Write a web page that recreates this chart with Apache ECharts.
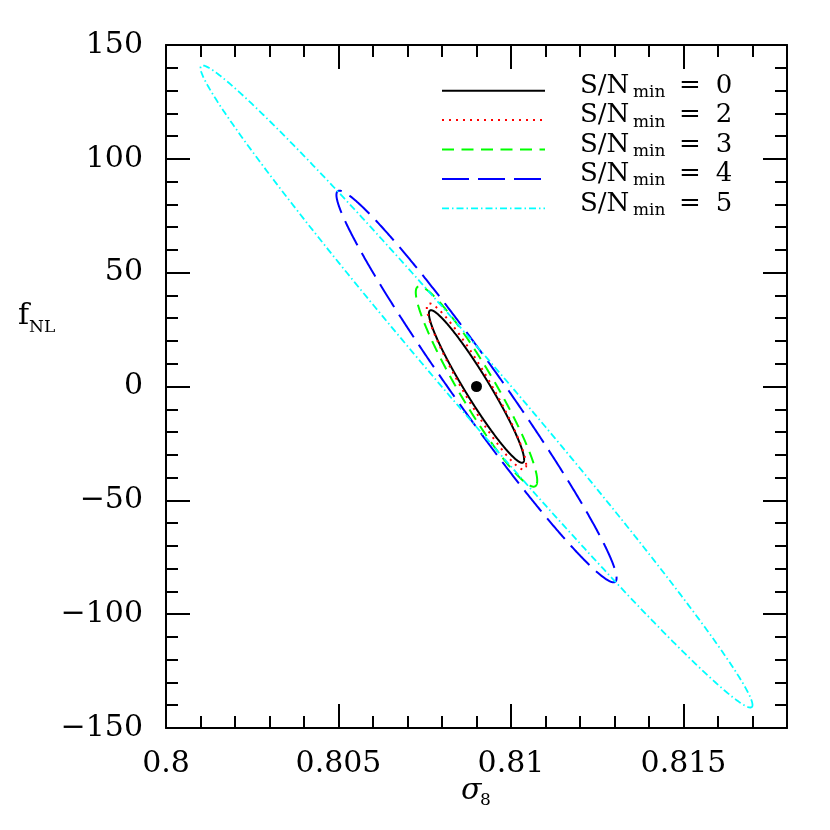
<!DOCTYPE html>
<html><head><meta charset="utf-8">
<script src="https://cdn.jsdelivr.net/npm/echarts@6/dist/echarts.min.js"></script>
<style>html,body{margin:0;padding:0;background:#fff}#c{width:830px;height:830px}</style>
</head><body><div id="c"></div>
<script>
// ---- data ----
const snMin = ['0', '2', '3', '4', '5'];
const centerSigma8 = [0.809, 0.809, 0.809, 0.809, 0.809];
const centerFnl = [0, 0, 0, 0, 0];
const sigma8Extent = [0.00138, 0.00144, 0.00176, 0.00406, 0.00800];   // half extent in sigma_8
const fnlExtent = [33.5, 36.5, 44, 86, 141];                          // half extent in f_NL
const correlation = [-0.955, -0.948, -0.94, -0.978, -0.992];
const fiducial = [[0.809, 0]];
const xRange = [0.8, 0.818];
const yRange = [-150, 150];

// ---- styles ----
const colors = ['#000000', '#ff0000', '#00ff00', '#0000ff', '#00ffff'];
const dashes = [null, [2, 5], [12, 7.5], [27, 9], [7, 3, 1.5, 3]];
const widths = [2, 2, 2, 2, 1.8];
const FONT = 'DejaVu Serif';

const chart = echarts.init(document.getElementById('c'), null, {renderer: 'canvas'});

function ellipseItem(params, api) {
  const x0 = api.value(0), y0 = api.value(1), sx = api.value(2), sy = api.value(3), r = api.value(4);
  const d = Math.acos(r);
  const pts = [];
  for (let k = 0; k <= 720; k++) {
    const t = k * Math.PI / 360;
    pts.push(api.coord([x0 + sx * Math.cos(t), y0 + sy * Math.cos(t + d)]));
  }
  const i = params.seriesIndex;
  return {type: 'polyline', shape: {points: pts},
    style: {stroke: colors[i], fill: null, lineWidth: widths[i], lineDash: dashes[i]}};
}

const series = snMin.map((s, i) => ({
  type: 'custom', name: 'S/N_min = ' + s,
  xAxisIndex: 0, yAxisIndex: 0,
  renderItem: ellipseItem,
  data: [[centerSigma8[i], centerFnl[i], sigma8Extent[i], fnlExtent[i], correlation[i]]],
  silent: true, animation: false
}));
series.push({type: 'scatter', data: fiducial, symbolSize: 11, itemStyle: {color: '#000', opacity: 1},
  xAxisIndex: 0, yAxisIndex: 0, animation: false, silent: true, z: 5});

function mkAxis(pos, interval, len, labels, line, isX) {
  return {
    type: 'value', position: pos, min: isX ? xRange[0] : yRange[0], max: isX ? xRange[1] : yRange[1],
    interval: interval, splitLine: {show: false},
    axisLine: {show: line, onZero: false, lineStyle: {color: '#000', width: 2}},
    axisTick: {show: true, inside: true, length: len, lineStyle: {color: '#000', width: 2}},
    axisLabel: {show: labels, color: '#000', fontFamily: FONT, fontSize: 30,
      margin: isX ? 21 : 23, showMaxLabel: !isX,
      formatter: v => (v < 0 ? '\u2212' + (-v) : String(v))}
  };
}

const legendGraphics = [];
snMin.forEach((s, i) => {
  const yl = 90.7 + i * 29.4;
  legendGraphics.push({type: 'line', shape: {x1: 442, y1: yl, x2: 545, y2: yl},
    style: {stroke: colors[i], lineWidth: widths[i], lineDash: dashes[i]}, silent: true});
  const yt = 86.2 + i * 29.4;
  legendGraphics.push({type: 'text', x: 580, y: yt, style: {text: 'S/N', font: '26px "' + FONT + '"', fill: '#000', verticalAlign: 'middle', align: 'left'}});
  legendGraphics.push({type: 'text', x: 633, y: yt + 6.5, style: {text: 'min', font: '17px "' + FONT + '"', fill: '#000', verticalAlign: 'middle', align: 'left'}});
  legendGraphics.push({type: 'text', x: 690, y: yt, style: {text: '=', font: '26px "' + FONT + '"', fill: '#000', verticalAlign: 'middle', align: 'center'}});
  legendGraphics.push({type: 'text', x: 724, y: yt, style: {text: s, font: '26px "' + FONT + '"', fill: '#000', verticalAlign: 'middle', align: 'center'}});
});

const axisNames = [
  {type: 'text', x: 18, y: 316, style: {text: 'f', font: '30px "' + FONT + '"', fill: '#000', verticalAlign: 'middle'}},
  {type: 'text', x: 29, y: 328, style: {text: 'NL', font: '17px "' + FONT + '"', fill: '#000', verticalAlign: 'middle'}},
  {type: 'text', x: 461, y: 791, style: {text: '\u03c3', font: 'italic 30px "' + FONT + '"', fill: '#000', verticalAlign: 'middle'}},
  {type: 'text', x: 480, y: 801, style: {text: '8', font: '17px "' + FONT + '"', fill: '#000', verticalAlign: 'middle'}}
];

chart.setOption({
  animation: false,
  backgroundColor: '#fff',
  grid: {left: 166, right: 43, top: 45, bottom: 102, containLabel: false},
  xAxis: [
    mkAxis('bottom', 0.005, 24, true, true, true),
    mkAxis('bottom', 0.001, 12, false, false, true),
    mkAxis('top', 0.005, 24, false, true, true),
    mkAxis('top', 0.001, 12, false, false, true)
  ],
  yAxis: [
    mkAxis('left', 50, 24, true, true, false),
    mkAxis('left', 10, 12, false, false, false),
    mkAxis('right', 50, 24, false, true, false),
    mkAxis('right', 10, 12, false, false, false)
  ],
  series: series,
  graphic: legendGraphics.concat(axisNames)
});
</script></body></html>
